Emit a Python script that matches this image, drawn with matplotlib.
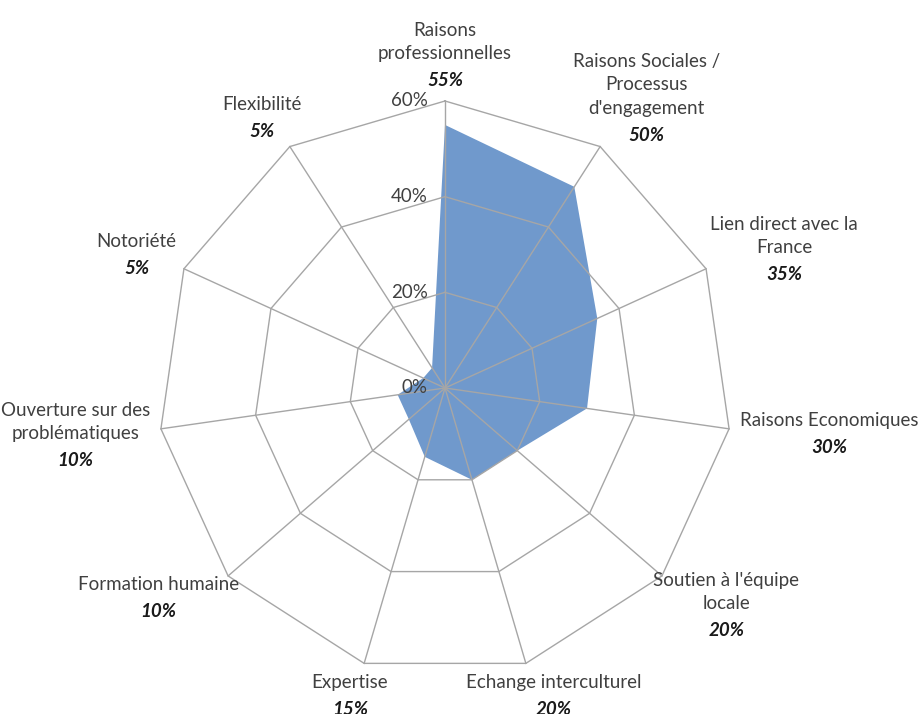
import matplotlib.pyplot as plt
import numpy as np

plt.rcParams['font.family'] = ['Lato', 'DejaVu Sans']

categories = ['Raisons\nprofessionnelles',
              "Raisons Sociales /\nProcessus\nd'engagement",
              'Lien direct avec la\nFrance',
              'Raisons Economiques',
              "Soutien à l'équipe\nlocale",
              'Echange interculturel',
              'Expertise',
              'Formation humaine',
              'Ouverture sur des\nproblématiques',
              'Notoriété',
              'Flexibilité']
values = [55, 50, 35, 30, 20, 20, 15, 10, 10, 5, 5]
rings = [20, 40, 60]
ticks = [0, 20, 40, 60]

# chart geometry (pixels)
W, H = 921, 714
cx, cy = 445, 388
r_px = 287
rmax = 60
scale = r_px / rmax

fig = plt.figure(figsize=(W / 100, H / 100), dpi=100)
ax = fig.add_axes([0, 0, 1, 1])
ax.set_xlim(-cx / scale, (W - cx) / scale)
ax.set_ylim(-(H - cy) / scale, cy / scale)
ax.set_aspect('equal')
ax.axis('off')

n = len(categories)
theta = np.arange(n) * 2 * np.pi / n
sx, sy = np.sin(theta), np.cos(theta)

# filled series
v = np.array(values, dtype=float)
ax.fill(v * sx, v * sy, color='#7099cc', zorder=1, lw=0)

# grid: rings and spokes
grid_col = '#a6a6a6'
for r in rings:
    ax.plot(np.append(r * sx, r * sx[0]), np.append(r * sy, r * sy[0]),
            color=grid_col, lw=1, zorder=2)
for i in range(n):
    ax.plot([0, rmax * sx[i]], [0, rmax * sy[i]], color=grid_col, lw=1, zorder=2)

# radial tick labels
for t in ticks:
    ax.text(-3.6, t, f'{t}%', ha='right', va='center', fontsize=13.5, color='#404040')

# category labels, pushed just outside each outer vertex
fig.canvas.draw()
renderer = fig.canvas.get_renderer()
pad = 12
gap = 10
for i in range(n):
    name = ax.text(0, 0, categories[i], ha='center', va='bottom', fontsize=13.5,
                   color='#404040', multialignment='center', linespacing=1.45)
    pct = ax.text(0, 0, f'{values[i]}%', ha='center', va='top', fontsize=13.5,
                  fontweight='bold', fontstyle='italic', color='#1a1a1a')
    b1 = name.get_window_extent(renderer)
    b2 = pct.get_window_extent(renderer)
    w = max(b1.width, b2.width)
    h = b1.height + b2.height + gap
    bx = (r_px + pad) * sx[i] + 0.5 * w * sx[i]
    by = (r_px + pad) * sy[i] + 0.5 * h * sy[i]
    top = by + h / 2
    split = top - b1.height
    name.set_position((bx / scale, split / scale))
    pct.set_position((bx / scale, (split - gap) / scale))

fig.savefig('out.png', dpi=100)
